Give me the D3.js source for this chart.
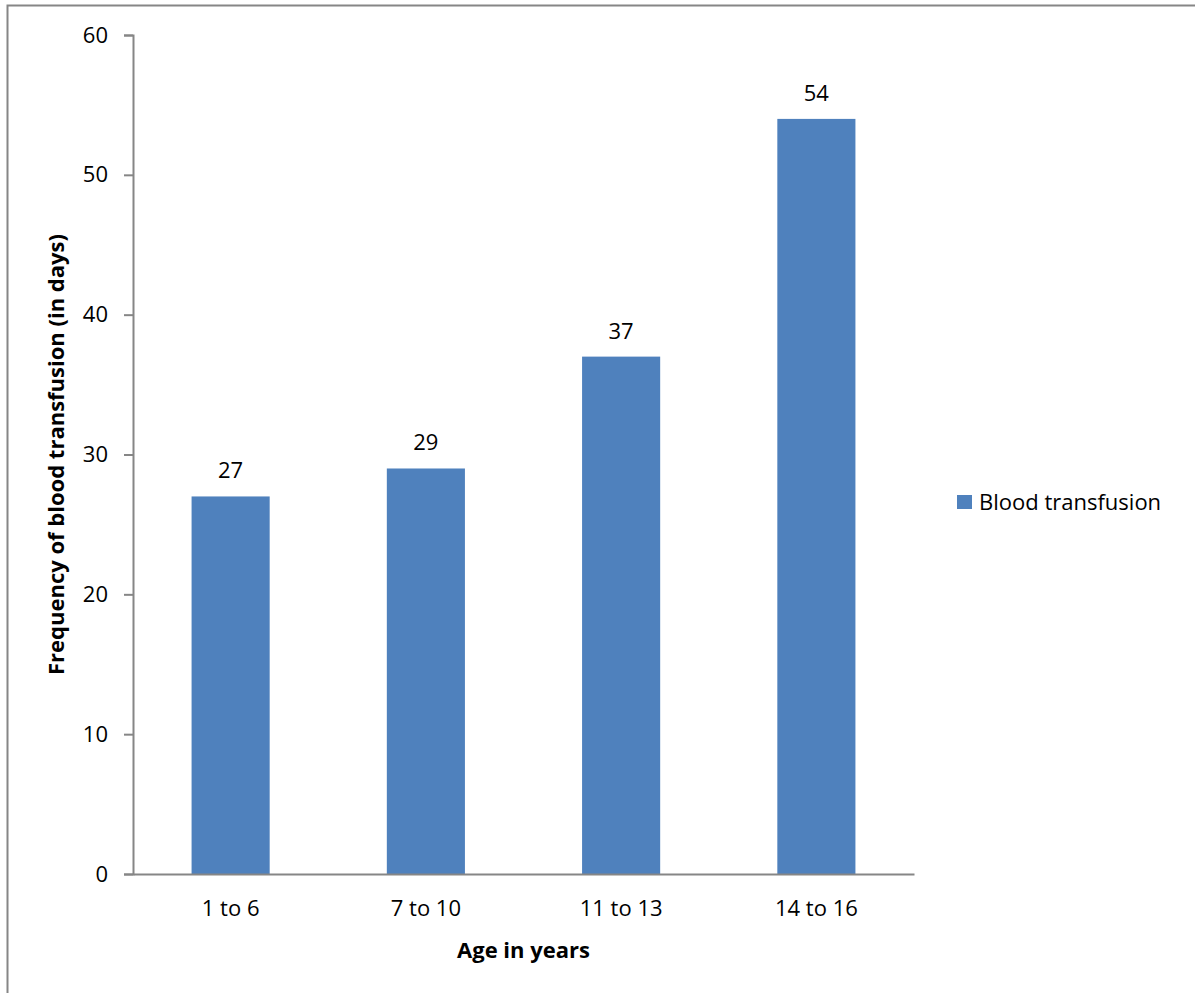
<!DOCTYPE html>
<html>
<head>
<meta charset="utf-8">
<script src="https://cdn.jsdelivr.net/npm/d3@7"></script>
<style>
  html, body { margin: 0; padding: 0; background: #fff; }
  svg { display: block; }
  text { font-family: "Open Sans", "Noto Sans", sans-serif; fill: #000; }
</style>
</head>
<body>
<svg id="chart" width="1195" height="993"></svg>
<script>
// Age groups and transfusion frequency (days)
const categories = ["1 to 6", "7 to 10", "11 to 13", "14 to 16"];
const values = [27, 29, 37, 54];
const yTicks = [0, 10, 20, 30, 40, 50, 60];
const seriesName = "Blood transfusion";
const xTitle = "Age in years";
const yTitle = "Frequency of blood transfusion (in days)";

const svg = d3.select("#chart");
const W = 1195, H = 993;
const plot = { left: 133, right: 914, top: 35, bottom: 874 };
const barColor = "#4f81bd";
const axisColor = "#868686";
const fontSize = 22;

// Outer chart frame
svg.append("rect")
  .attr("x", 7.5).attr("y", 5.5)
  .attr("width", W + 10).attr("height", H + 10)
  .attr("fill", "#fff").attr("stroke", axisColor).attr("stroke-width", 2);

const x = d3.scaleBand()
  .domain(categories)
  .range([plot.left, plot.right])
  .paddingInner(0.6)
  .paddingOuter(0.3);

const y = d3.scaleLinear()
  .domain([0, 60])
  .range([plot.bottom, plot.top]);

// Bars
svg.append("g").selectAll("rect")
  .data(values)
  .join("rect")
  .attr("x", (d, i) => x(categories[i]))
  .attr("y", d => y(d))
  .attr("width", x.bandwidth())
  .attr("height", d => y(0) - y(d))
  .attr("fill", barColor);

// Y axis
const yAxis = svg.append("g")
  .attr("transform", `translate(${plot.left},0)`)
  .call(d3.axisLeft(y).tickValues(yTicks).tickSize(9).tickPadding(16));
yAxis.select(".domain").attr("stroke", axisColor).attr("stroke-width", 2);
yAxis.selectAll(".tick line").attr("stroke", axisColor).attr("stroke-width", 2);
yAxis.selectAll(".tick text")
  .attr("font-size", fontSize).attr("font-family", "Open Sans").attr("fill", "#000");

// X axis
const xAxis = svg.append("g")
  .attr("transform", `translate(0,${plot.bottom})`)
  .call(d3.axisBottom(x).tickSize(0).tickPadding(26));
xAxis.select(".domain").attr("stroke", axisColor).attr("stroke-width", 2);
xAxis.selectAll(".tick text")
  .attr("font-size", fontSize).attr("font-family", "Open Sans").attr("fill", "#000");

// Value labels above bars
svg.append("g").selectAll("text")
  .data(values)
  .join("text")
  .attr("x", (d, i) => x(categories[i]) + x.bandwidth() / 2)
  .attr("y", d => y(d) - 18)
  .attr("text-anchor", "middle")
  .attr("font-size", fontSize)
  .text(d => d);

// Axis titles
svg.append("text")
  .attr("x", (plot.left + plot.right) / 2)
  .attr("y", 958)
  .attr("text-anchor", "middle")
  .attr("font-size", fontSize)
  .attr("font-weight", "bold")
  .text(xTitle);

svg.append("text")
  .attr("transform", `translate(64,${(plot.top + plot.bottom) / 2}) rotate(-90)`)
  .attr("text-anchor", "middle")
  .attr("font-size", fontSize)
  .attr("font-weight", "bold")
  .text(yTitle);

// Legend
const legend = svg.append("g").attr("transform", "translate(957,495)");
legend.append("rect").attr("width", 15).attr("height", 14).attr("fill", barColor);
legend.append("text")
  .attr("x", 22).attr("y", 15)
  .attr("font-size", fontSize)
  .text(seriesName);
</script>
</body>
</html>
